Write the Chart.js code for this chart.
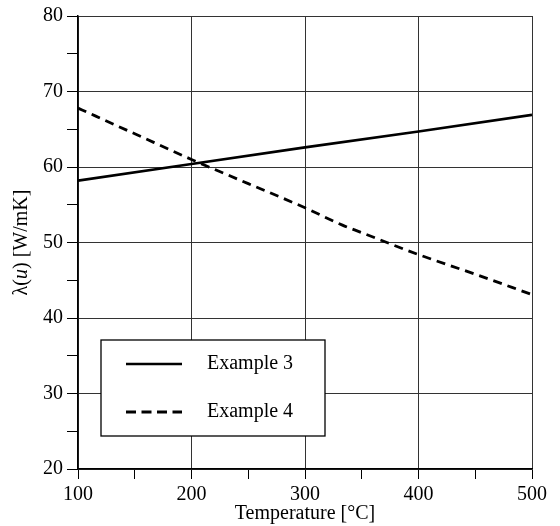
<!DOCTYPE html>
<html>
<head>
<meta charset="utf-8">
<script src="https://cdn.jsdelivr.net/npm/chart.js@4/dist/chart.umd.min.js"></script>
<style>
html,body{margin:0;padding:0;background:#fff;}
#wrap{width:560px;height:526px;}
</style>
</head>
<body>
<div id="wrap"><canvas id="c" width="560" height="526"></canvas></div>
<script>
// Data
const example3T = [100, 200, 300, 400, 500];
const example3L = [58.2, 60.4, 62.6, 64.7, 66.9];
const example4T = [100, 150, 200, 250, 300, 333, 350, 400, 450, 500];
const example4L = [67.8, 64.4, 61.0, 57.8, 54.6, 52.3, 51.3, 48.4, 45.8, 43.1];
const seriesNames = ['Example 3', 'Example 4'];
const xTicks = [100, 200, 300, 400, 500];
const yTicks = [20, 30, 40, 50, 60, 70, 80];
const xTitle = 'Temperature [°C]';
const yTitleParts = [['λ(', false], ['u', true], [') [W/mK]', false]];

const FONT = "'Liberation Serif', 'Times New Roman', serif";

function pts(xs, ys){ return xs.map((x,i)=>({x:x, y:ys[i]})); }

const legendBox = {
  id: 'legendBox',
  afterDatasetsDraw(chart){
    const ctx = chart.ctx;
    const a = chart.chartArea;
    const x0 = a.left + 23, y0 = a.top + 324, w = 224, h = 96;
    ctx.save();
    ctx.fillStyle = '#fff';
    ctx.fillRect(x0, y0, w, h);
    ctx.strokeStyle = '#000';
    ctx.lineWidth = 1.3;
    ctx.strokeRect(x0, y0, w, h);
    chart.data.datasets.forEach((ds, i) => {
      const ly = y0 + 24 + i * 48;
      ctx.beginPath();
      ctx.setLineDash(ds.borderDash && ds.borderDash.length ? [10, 5.5] : []);
      ctx.lineWidth = ds.borderWidth;
      ctx.strokeStyle = ds.borderColor;
      ctx.moveTo(x0 + 25, ly);
      ctx.lineTo(x0 + 81, ly);
      ctx.stroke();
      ctx.setLineDash([]);
      ctx.fillStyle = '#000';
      ctx.font = '20px ' + FONT;
      ctx.textAlign = 'left';
      ctx.textBaseline = 'middle';
      ctx.fillText(ds.label, x0 + 106, ly);
    });
    ctx.restore();
  }
};

const yTitlePlugin = {
  id: 'yTitlePlugin',
  afterDraw(chart){
    const ctx = chart.ctx;
    const a = chart.chartArea;
    ctx.save();
    ctx.fillStyle = '#000';
    ctx.textBaseline = 'middle';
    ctx.textAlign = 'left';
    const fontFor = (it) => (it ? 'italic ' : '') + '20px ' + FONT;
    let total = 0;
    yTitleParts.forEach(p => { ctx.font = fontFor(p[1]); total += ctx.measureText(p[0]).width; });
    ctx.translate(22, (a.top + a.bottom) / 2);
    ctx.rotate(-Math.PI / 2);
    let x = -total / 2;
    yTitleParts.forEach(p => { ctx.font = fontFor(p[1]); ctx.fillText(p[0], x, 0); x += ctx.measureText(p[0]).width; });
    ctx.restore();
  }
};

new Chart(document.getElementById('c'), {
  type: 'line',
  data: {
    datasets: [
      { label: seriesNames[0], data: pts(example3T, example3L), borderColor: '#000', borderWidth: 2.6, pointRadius: 0, tension: 0, fill: false },
      { label: seriesNames[1], data: pts(example4T, example4L), borderColor: '#000', borderWidth: 2.8, borderDash: [9, 6], pointRadius: 0, tension: 0.3, cubicInterpolationMode: 'monotone', fill: false }
    ]
  },
  options: {
    responsive: false,
    animation: false,
    devicePixelRatio: 1,
    layout: { padding: { top: 16, right: 28, left: 0, bottom: 0 } },
    plugins: { legend: { display: false }, tooltip: { enabled: false } },
    scales: {
      x: {
        type: 'linear', min: 100, max: 500,
        afterBuildTicks(s){ const t=[]; for(let v=100; v<=500; v+=50) t.push({value:v}); s.ticks = t; },
        afterFit(s){ s.height = 57; },
        grid: {
          color: (c) => (xTicks.includes(c.tick && c.tick.value) ? '#333' : 'rgba(0,0,0,0)'),
          tickColor: '#000', tickLength: 10, lineWidth: 1
        },
        border: { color: '#000', width: 1.5 },
        ticks: {
          color: '#000', font: { family: FONT, size: 20 }, padding: 4, maxRotation: 0, autoSkip: false,
          callback: (v) => (xTicks.includes(v) ? String(v) : '')
        },
        title: { display: true, text: xTitle, color: '#000', font: { family: FONT, size: 20 }, padding: { top: -7, bottom: 0 } }
      },
      y: {
        type: 'linear', min: 20, max: 80,
        afterBuildTicks(s){ const t=[]; for(let v=20; v<=80; v+=5) t.push({value:v}); s.ticks = t; },
        afterFit(s){ s.width = 78; },
        grid: {
          color: (c) => (yTicks.includes(c.tick && c.tick.value) ? '#333' : 'rgba(0,0,0,0)'),
          tickColor: '#000', tickLength: 11, lineWidth: 1
        },
        border: { color: '#000', width: 1.5 },
        ticks: {
          color: '#000', font: { family: FONT, size: 20 }, padding: 4, autoSkip: false,
          callback: (v) => (yTicks.includes(v) ? String(v) : '')
        },
        title: { display: false }
      }
    }
  },
  plugins: [legendBox, yTitlePlugin]
});
</script>
</body>
</html>
